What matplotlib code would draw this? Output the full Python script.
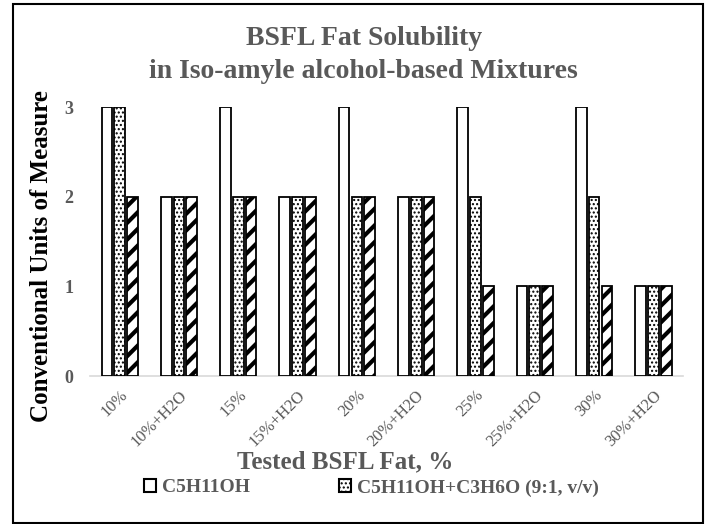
import matplotlib
matplotlib.use("Agg")
import matplotlib.pyplot as plt
import numpy as np
from matplotlib.patches import Rectangle, Patch

categories = ["10%", "10%+H2O", "15%", "15%+H2O", "20%", "20%+H2O",
              "25%", "25%+H2O", "30%", "30%+H2O"]
series_a = [3, 2, 3, 2, 3, 2, 3, 1, 3, 1]   # C5H11OH
series_b = [3, 2, 2, 2, 2, 2, 2, 1, 2, 1]   # C5H11OH+C3H6O (9:1, v/v)
series_c = [2, 2, 2, 2, 2, 2, 1, 1, 1, 1]
label_a = "C5H11OH"
label_b = "C5H11OH+C3H6O (9:1, v/v)"
yticks = [0, 1, 2, 3]

GRAY = "#595959"
FONT = "Liberation Serif"
plt.rcParams["font.family"] = FONT

fig = plt.figure(figsize=(7.05, 5.24), dpi=100)
ax = fig.add_axes([0.1277, 0.2824, 0.8411, 0.5134])

x = np.arange(len(categories))
w = 0.18
step = 0.216

def draw(vals, off, hatch, hlw):
    plt.rcParams["hatch.linewidth"] = hlw
    bars = ax.bar(x + off, vals, width=w, facecolor="white",
                  edgecolor="black", linewidth=1.3, hatch=hatch, zorder=3)
    for b in bars:
        if hasattr(b, "set_hatch_linewidth"):
            b.set_hatch_linewidth(hlw)
    return bars

draw(series_a, -step, None, 1.0)
draw(series_b, 0.0, "....", 1.0)
draw(series_c, step, "//", 3.0)
plt.rcParams["hatch.linewidth"] = 1.0

ax.set_xlim(-0.5, len(categories) - 0.5)
ax.set_ylim(0, 3)
ax.set_yticks(yticks)
ax.set_yticklabels([str(t) for t in yticks], fontsize=13, fontweight="bold",
                   color=GRAY)
ax.set_xticks(x)
ax.set_xticklabels(categories, rotation=45, ha="right", rotation_mode="anchor",
                   fontsize=12, color=GRAY)
ax.tick_params(axis="both", length=0, pad=12)
ax.tick_params(axis="x", pad=8)
for s in ["top", "right", "left"]:
    ax.spines[s].set_visible(False)
ax.spines["bottom"].set_color("#d9d9d9")
ax.spines["bottom"].set_linewidth(1.2)

ax.set_ylabel("Conventional Units of Measure", fontsize=18, fontweight="bold",
              color="black")
ax.yaxis.set_label_coords(-0.062, 0.446)

fig.text(0.516, 1 - 45 / 524, "BSFL Fat Solubility", ha="center",
         va="baseline", fontsize=20, fontweight="bold", color=GRAY)
fig.text(0.516, 1 - 78 / 524, "in Iso-amyle alcohol-based Mixtures",
         ha="center", va="baseline", fontsize=20, fontweight="bold",
         color=GRAY)
fig.text(0.49, 0.118, "Tested BSFL Fat, %", ha="center", va="center",
         fontsize=18, fontweight="bold", color=GRAY)

handles = [Patch(facecolor="white", edgecolor="black", linewidth=1.5),
           Patch(facecolor="white", edgecolor="black", linewidth=1.5,
                 hatch="....")]
leg = fig.legend(handles, [label_a, label_b], loc="center",
                 bbox_to_anchor=(0.527, 0.069), ncol=2, frameon=False,
                 handlelength=0.6, handleheight=0.6, handletextpad=0.3,
                 columnspacing=4.6,
                 prop={"family": FONT, "size": 14, "weight": "bold"})
for t in leg.get_texts():
    t.set_color(GRAY)

fig.add_artist(Rectangle((13 / 705, 1 / 524), 690 / 705, 519 / 524,
                         transform=fig.transFigure, fill=False,
                         edgecolor="black", linewidth=1.5))

fig.savefig("out.png", dpi=100)
